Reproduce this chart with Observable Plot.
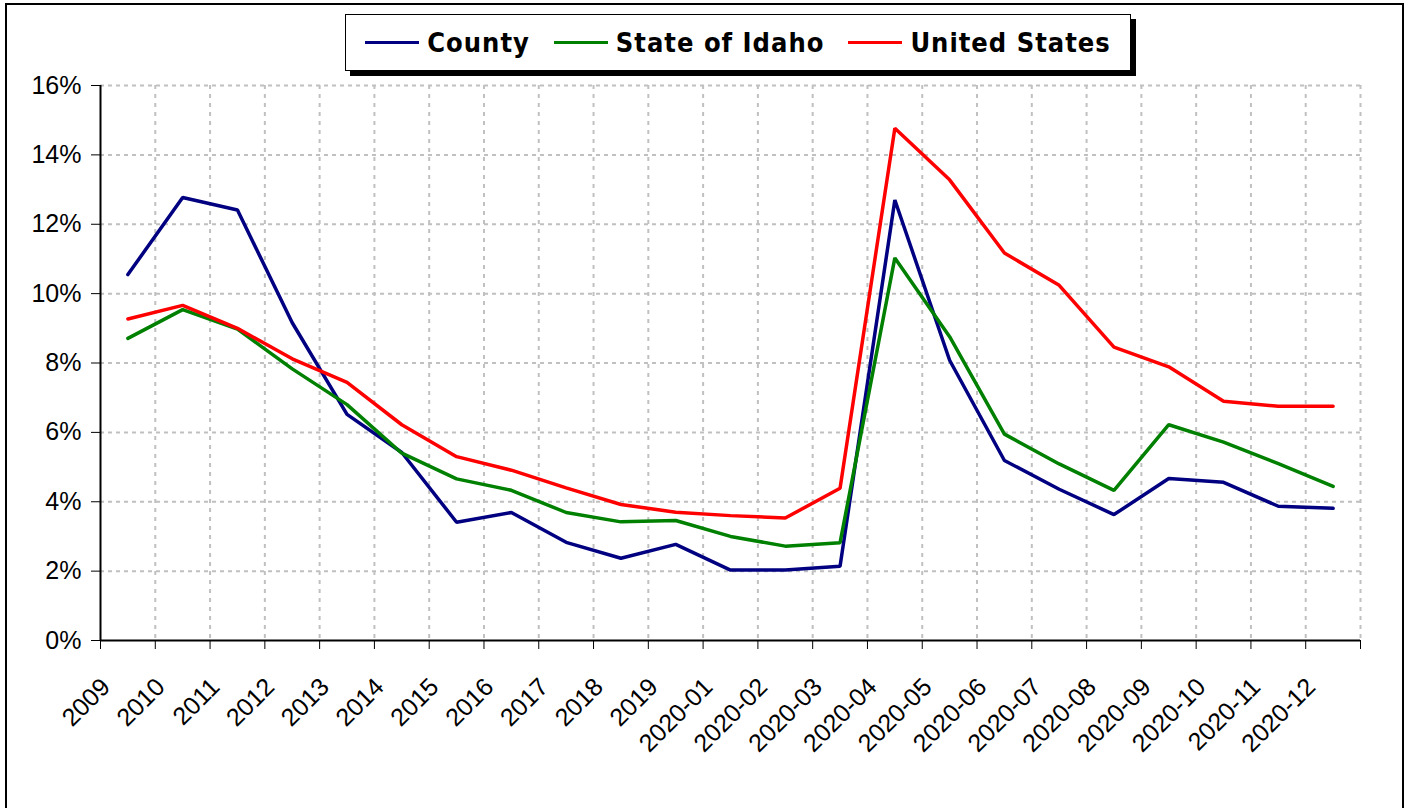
<!DOCTYPE html>
<html>
<head>
<meta charset="utf-8">
<script src="https://cdn.jsdelivr.net/npm/d3@7"></script>
<script src="https://cdn.jsdelivr.net/npm/@observablehq/plot@0.6"></script>
<style>
  html, body { margin: 0; padding: 0; background: #fff; }
  body { width: 1409px; height: 808px; overflow: hidden; position: relative; }
  #frame { position: absolute; left: 5px; top: 3px; width: 1399px; height: 900px; border: 2px solid #000; box-sizing: border-box; }
  #chart { position: absolute; left: 0; top: 0; width: 1409px; }
  #legend { position: absolute; left: 345px; top: 14px; width: 786px; height: 57px; box-sizing: border-box;
            border: 1.5px solid #000; background: #fff; box-shadow: 5px 5px 0 #000;
            display: flex; align-items: center; justify-content: center;
            font-family: "DejaVu Sans Condensed", "DejaVu Sans", Verdana, sans-serif; font-stretch: condensed;
            font-weight: bold; font-size: 27px; letter-spacing: 1px; color: #000; }
  .item { display: flex; align-items: center; margin: 0 12px; white-space: nowrap; }
  .sw { width: 54px; height: 3.5px; margin-right: 8px; }
</style>
</head>
<body>
<div id="frame"></div>
<div id="chart"></div>
<div id="legend"></div>
<script>
const categories = ["2009","2010","2011","2012","2013","2014","2015","2016","2017","2018","2019",
  "2020-01","2020-02","2020-03","2020-04","2020-05","2020-06","2020-07","2020-08","2020-09","2020-10","2020-11","2020-12"];
const county = [10.55, 12.77, 12.41, 9.16, 6.52, 5.42, 3.41, 3.69, 2.83, 2.37, 2.77, 2.03, 2.03, 2.14, 12.70, 8.08, 5.19, 4.36, 3.63, 4.67, 4.56, 3.87, 3.81];
const idaho  = [8.71, 9.54, 8.98, 7.83, 6.80, 5.40, 4.66, 4.33, 3.69, 3.42, 3.46, 3.00, 2.72, 2.82, 11.03, 8.76, 5.95, 5.09, 4.33, 6.22, 5.72, 5.10, 4.44];
const us     = [9.27, 9.66, 9.00, 8.12, 7.44, 6.22, 5.30, 4.91, 4.40, 3.92, 3.70, 3.60, 3.53, 4.39, 14.77, 13.28, 11.17, 10.24, 8.46, 7.89, 6.90, 6.75, 6.75];
const seriesNames = ["County", "State of Idaho", "United States"];
const seriesColors = ["#000080", "#008000", "#ff0000"];
const yTicks = [0, 2, 4, 6, 8, 10, 12, 14, 16];

const seriesValues = [county, idaho, us];
const data = [];
seriesNames.forEach((s, k) => {
  categories.forEach((c, i) => data.push({series: s, idx: i + 0.5, value: seriesValues[k][i]}));
});

const chart = Plot.plot({
  width: 1409,
  height: 808,
  marginLeft: 100,
  marginRight: 49,
  marginTop: 85,
  marginBottom: 168,
  style: {fontFamily: "'Liberation Sans', Arial, sans-serif", fontSize: "25px", color: "#000", background: "transparent", overflow: "visible"},
  x: {domain: [0, categories.length], ticks: d3.range(categories.length + 1), tickFormat: () => "", tickSize: 9, label: null},
  y: {domain: [0, 16], ticks: yTicks, tickFormat: d => d + "%", tickSize: 9, tickPadding: 10, label: null},
  color: {domain: seriesNames, range: seriesColors},
  marks: [
    Plot.ruleY(yTicks.slice(1), {stroke: "#c0c0c0", strokeWidth: 2, strokeDasharray: "4,4"}),
    Plot.ruleX(d3.range(1, categories.length + 1), {stroke: "#c0c0c0", strokeWidth: 2, strokeDasharray: "4,5"}),
    Plot.ruleY([0], {stroke: "#000", strokeWidth: 2}),
    Plot.ruleX([0], {stroke: "#000", strokeWidth: 2}),
    Plot.line(data, {x: "idx", y: "value", z: "series", stroke: "series", strokeWidth: 3.5, strokeLinejoin: "miter"}),
    Plot.text(categories, {x: (d, i) => i, frameAnchor: "bottom", text: d => d, rotate: -45,
      textAnchor: "end", lineAnchor: "bottom", dx: 11, dy: 48, fontSize: 25, fill: "#000"})
  ]
});
document.getElementById("chart").appendChild(chart);

const legend = document.getElementById("legend");
seriesNames.forEach((s, k) => {
  const item = document.createElement("div");
  item.className = "item";
  const sw = document.createElement("div");
  sw.className = "sw";
  sw.style.background = seriesColors[k];
  const t = document.createElement("span");
  t.textContent = s;
  item.appendChild(sw);
  item.appendChild(t);
  legend.appendChild(item);
});
</script>
</body>
</html>
